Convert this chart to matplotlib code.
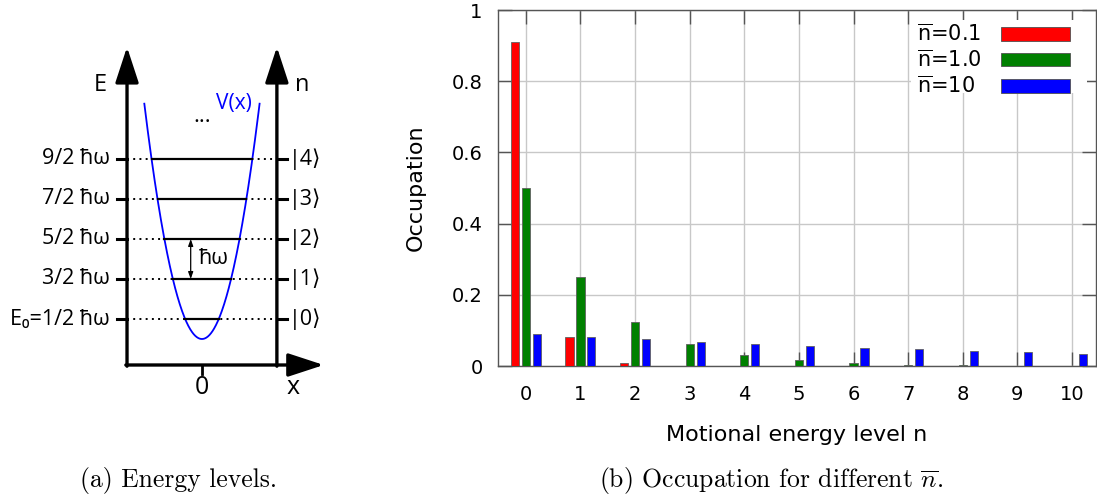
import numpy as np
import matplotlib
matplotlib.use("Agg")
import matplotlib.pyplot as plt
from matplotlib.patches import Rectangle

# ---- data -------------------------------------------------------------
levels_n = [0, 1, 2, 3, 4]
level_labels = ["E₀=1/2 ħω", "3/2 ħω", "5/2 ħω", "7/2 ħω", "9/2 ħω"]
ket_labels = ["|0⟩", "|1⟩", "|2⟩", "|3⟩", "|4⟩"]

motional_levels = list(range(11))
occ_nbar_01 = [0.909, 0.0826, 0.0075, 0.0007, 0.00006, 0.0, 0.0, 0.0, 0.0, 0.0, 0.0]
occ_nbar_1 = [0.5, 0.25, 0.125, 0.0625, 0.0313, 0.0156, 0.0078, 0.0039, 0.002, 0.001, 0.0005]
occ_nbar_10 = [0.0909, 0.0826, 0.0751, 0.0683, 0.0621, 0.0564, 0.0513, 0.0467, 0.0424, 0.0386, 0.0351]
series_labels = [r"$\overline{\mathrm{n}}$=0.1", r"$\overline{\mathrm{n}}$=1.0", r"$\overline{\mathrm{n}}$=10"]
series_colors = ["#ff0000", "#008000", "#0000ff"]

sans = ["Open Sans", "DejaVu Sans"]

fig = plt.figure(figsize=(10.97, 4.97), dpi=100)

# ---- (a) harmonic oscillator level diagram -----------------------------
ax_a = fig.add_axes([0, 0, 395 / 1097, 1])
ax_a.set_xlim(-12.02, 11.49)
ax_a.set_ylim(-3.95, 8.475)
ax_a.axis("off")

x_wall = 4.46
e_floor = -0.65
e_top = 7.3
arrow_kw = dict(arrowstyle="-|>,head_length=1.1,head_width=0.36", lw=2.4,
                color="black", shrinkA=0, shrinkB=0, mutation_scale=20)
ax_a.annotate("", xy=(-x_wall, e_top), xytext=(-x_wall, e_floor - 0.03), arrowprops=arrow_kw)
ax_a.annotate("", xy=(x_wall, e_top), xytext=(x_wall, e_floor - 0.03), arrowprops=arrow_kw)
ax_a.annotate("", xy=(7.25, e_floor), xytext=(-x_wall - 0.07, e_floor), arrowprops=arrow_kw)

# potential V(x) = x^2 / 2 in units of hbar*omega
xs = np.linspace(-3.43, 3.43, 300)
ax_a.plot(xs, 0.5 * xs ** 2, color="#0000ff", lw=1.3)

for n, left_lbl, ket in zip(levels_n, level_labels, ket_labels):
    e = n + 0.5
    xe = np.sqrt(2 * e)
    ax_a.plot([-x_wall, x_wall], [e, e], color="black", lw=1.4, dashes=(1, 2.2))
    ax_a.plot([-xe, xe], [e, e], color="black", lw=1.6)
    ax_a.plot([-x_wall - 0.6, -x_wall], [e, e], color="black", lw=2.2)
    ax_a.plot([x_wall, x_wall + 0.6], [e, e], color="black", lw=2.2)
    ax_a.text(-5.48, e, left_lbl, ha="right", va="center", fontsize=15.5, family=sans)
    ax_a.text(5.15, e, ket, ha="left", va="center", fontsize=15.5, family=sans)

# spacing arrow between |1> and |2>
ax_a.annotate("", xy=(-0.67, 2.5), xytext=(-0.67, 1.5),
              arrowprops=dict(arrowstyle="<|-|>,head_length=0.5,head_width=0.18",
                              lw=0.9, color="black", shrinkA=0, shrinkB=0, mutation_scale=8))
ax_a.text(-0.2, 2.0, "ħω", ha="left", va="center", fontsize=15.5, family=sans)

ax_a.plot([0, 0], [e_floor, e_floor - 0.22], color="black", lw=2.0)
ax_a.text(0, -1.22, "0", ha="center", va="center", fontsize=18, family=sans)
ax_a.text(5.45, -1.2, "x", ha="center", va="center", fontsize=18, family=sans)
ax_a.text(-6.07, 6.35, "E", ha="center", va="center", fontsize=17, family=sans)
ax_a.text(5.95, 6.35, "n", ha="center", va="center", fontsize=17, family=sans)
ax_a.text(1.9, 5.9, "V(x)", ha="center", va="center", fontsize=15, color="#0000ff", family=sans)
ax_a.text(0, 5.55, "...", ha="center", va="center", fontsize=16, family=sans)

# ---- (b) occupation histogram ------------------------------------------
ax_b = fig.add_axes([498 / 1097, 1 - 366 / 497, 598 / 1097, 356 / 497])
x = np.array(motional_levels)
width = 0.15
for off, vals, col in zip([-0.2, 0.0, 0.2], [occ_nbar_01, occ_nbar_1, occ_nbar_10],
                          series_colors):
    ax_b.bar(x + off, vals, width, color=col, edgecolor="#606060", linewidth=0.6, zorder=3)

ax_b.set_xlim(-0.51, 10.44)
ax_b.set_ylim(0, 1)
ax_b.set_xticks(motional_levels)
ax_b.set_yticks([0, 0.2, 0.4, 0.6, 0.8, 1.0])
ax_b.set_yticklabels(["0", "0.2", "0.4", "0.6", "0.8", "1"])
ax_b.grid(True, color="#c8c8c8", lw=1.0, zorder=0)
ax_b.tick_params(axis="both", direction="in", length=10, width=1, color="#555555",
                 labelsize=14, top=True, right=True)
ax_b.tick_params(axis="x", pad=14)
ax_b.tick_params(axis="y", pad=11)
for sp in ax_b.spines.values():
    sp.set_color("#555555")
    sp.set_linewidth(1.0)
ax_b.set_xlabel("Motional energy level n", fontsize=16, labelpad=15)
ax_b.set_ylabel("Occupation", fontsize=16, labelpad=19)

# key box: label on the left, colour swatch on the right
ax_b.add_patch(Rectangle((0.69, 0.767), 0.295, 0.205, transform=ax_b.transAxes,
                         facecolor="white", edgecolor="none", zorder=4))
key_rows = [0.9326, 0.8596, 0.7865]
for yk, lbl, col in zip(key_rows, series_labels, series_colors):
    ax_b.text(0.7007, yk, lbl, transform=ax_b.transAxes, ha="left", va="center",
              fontsize=15, zorder=5)
    ax_b.add_patch(Rectangle((0.841, yk - 0.0183), 0.1154, 0.0366, transform=ax_b.transAxes,
                             facecolor=col, edgecolor="#505050", linewidth=0.6, zorder=5))

# ---- captions ----------------------------------------------------------
fig.text(178 / 1097, 1 - 480 / 497, "(a) Energy levels.", family="cmr10", fontsize=18.5,
         ha="center", va="center")
fig.text(771 / 1097, 1 - 480 / 497, r"(b) Occupation for different $\overline{n}$.",
         family="cmr10", fontsize=18.5, ha="center", va="center", math_fontfamily="cm")

fig.savefig("out.png", dpi=100)
